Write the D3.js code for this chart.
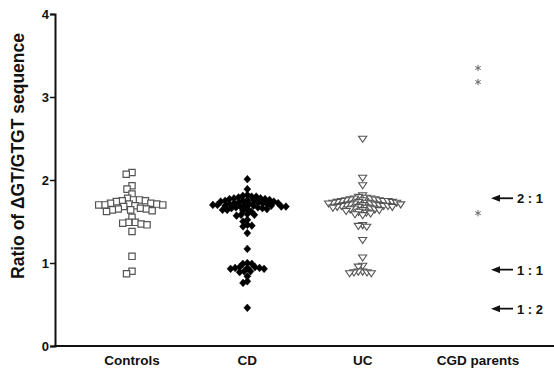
<!DOCTYPE html>
<html><head><meta charset="utf-8">
<script src="https://cdn.jsdelivr.net/npm/d3@7"></script>
<style>body{margin:0;background:#fff}svg{display:block}text{font-family:"Liberation Sans",Arial,sans-serif}</style>
</head><body><svg id="c" width="554" height="371"></svg>
<script>
const categories = ["Controls", "CD", "UC", "CGD parents"];
const controls = [2.09, 2.07, 1.93, 1.89, 1.83, 1.78, 1.76, 1.76, 1.75, 1.75, 1.74, 1.72, 1.72, 1.71, 1.71, 1.70, 1.70, 1.70, 1.69, 1.68, 1.66, 1.65, 1.65, 1.64, 1.64, 1.63, 1.62, 1.55, 1.49, 1.49, 1.48, 1.47, 1.46, 1.38, 1.08, 0.90, 0.87];
const cd = [2.01, 1.89, 1.82, 1.81, 1.80, 1.80, 1.79, 1.78, 1.78, 1.77, 1.77, 1.76, 1.76, 1.75, 1.75, 1.75, 1.74, 1.74, 1.73, 1.73, 1.72, 1.72, 1.72, 1.71, 1.71, 1.71, 1.70, 1.70, 1.70, 1.69, 1.69, 1.69, 1.68, 1.68, 1.68, 1.67, 1.67, 1.66, 1.66, 1.65, 1.65, 1.64, 1.64, 1.63, 1.62, 1.59, 1.58, 1.58, 1.57, 1.52, 1.50, 1.46, 1.45, 1.44, 1.36, 1.17, 1.00, 0.99, 0.99, 0.95, 0.95, 0.94, 0.94, 0.94, 0.93, 0.93, 0.90, 0.90, 0.89, 0.84, 0.78, 0.76, 0.46];
const uc = [2.50, 2.03, 1.94, 1.82, 1.80, 1.79, 1.78, 1.78, 1.77, 1.77, 1.76, 1.76, 1.76, 1.75, 1.75, 1.75, 1.74, 1.74, 1.74, 1.73, 1.73, 1.73, 1.72, 1.72, 1.72, 1.71, 1.71, 1.71, 1.70, 1.70, 1.70, 1.69, 1.69, 1.69, 1.68, 1.68, 1.68, 1.67, 1.67, 1.66, 1.66, 1.65, 1.65, 1.64, 1.64, 1.63, 1.62, 1.61, 1.60, 1.59, 1.58, 1.46, 1.45, 1.44, 1.28, 1.07, 0.97, 0.96, 0.90, 0.90, 0.89, 0.89, 0.88, 0.88];
const cgdParents = [3.35, 3.18, 1.60];
const yTicks = [0, 1, 2, 3, 4];
const ratioLabels = ["2 : 1", "1 : 1", "1 : 2"];
const ratioValues = [1.78, 0.92, 0.45];

const svg = d3.select("#c");
const y = d3.scaleLinear().domain([0, 4]).range([346, 14]);
const x = d3.scalePoint().domain(categories).range([132, 478]);

const ya = svg.append("g").attr("transform", "translate(55,0)")
  .call(d3.axisLeft(y).tickValues(yTicks).tickSize(5).tickFormat(d3.format("d")));
ya.select(".domain").attr("stroke", "#111").attr("stroke-width", 2);
ya.selectAll(".tick line").attr("stroke", "#111").attr("stroke-width", 1.5);
ya.selectAll(".tick text").attr("font-size", 13).attr("font-weight", "bold").attr("fill", "#111").attr("x", -6);

svg.append("line").attr("x1", 54).attr("x2", 554).attr("y1", y(0)).attr("y2", y(0))
  .attr("stroke", "#111").attr("stroke-width", 2);
svg.append("g").selectAll("text").data(categories).join("text")
  .attr("x", d => x(d)).attr("y", 365).attr("text-anchor", "middle")
  .attr("font-size", 13.5).attr("font-weight", "bold").attr("fill", "#111").text(d => d);

svg.append("text").attr("transform", "translate(24,156) rotate(-90)")
  .attr("text-anchor", "middle").attr("font-size", 17.5).attr("font-weight", "bold").attr("fill", "#111")
  .text("Ratio of \u0394GT/GTGT sequence");

function swarm(values, diam) {
  const pts = values.map(v => ({ v, py: y(v) })).sort((a, b) => a.py - b.py);
  const placed = [];
  for (const p of pts) {
    let cands = [0];
    for (const q of placed) {
      const dy = p.py - q.py;
      if (Math.abs(dy) < diam) {
        const dx = Math.sqrt(diam * diam - dy * dy);
        cands.push(q.dx + dx, q.dx - dx);
      }
    }
    cands.sort((a, b) => Math.abs(a) - Math.abs(b) || a - b);
    for (const c of cands) {
      const ok = placed.every(q => (q.dx - c) ** 2 + (q.py - p.py) ** 2 >= diam * diam - 0.01);
      if (ok) { p.dx = c; break; }
    }
    placed.push(p);
  }
  return placed;
}

function drawGroup(vals, cat, symType, size, fill, stroke, sw, diam) {
  const pts = swarm(vals, diam);
  svg.append("g").selectAll("path").data(pts).join("path")
    .attr("transform", d => `translate(${x(cat) + d.dx},${d.py})`)
    .attr("d", d3.symbol().type(symType).size(size))
    .attr("fill", fill).attr("stroke", stroke).attr("stroke-width", sw);
}

const invTri = { draw(ctx, s) { const r = Math.sqrt(s) / 1.6; ctx.moveTo(-r, -r * 0.55); ctx.lineTo(r, -r * 0.55); ctx.lineTo(0, r * 0.95); ctx.closePath(); } };
const diamond = { draw(ctx, s) { const r = Math.sqrt(s) / 2; ctx.moveTo(0, -r); ctx.lineTo(r * 0.9, 0); ctx.lineTo(0, r); ctx.lineTo(-r * 0.9, 0); ctx.closePath(); } };

drawGroup(controls, "Controls", d3.symbolSquare, 40, "#fff", "#555", 1.2, 6);
drawGroup(cd, "CD", diamond, 60, "#000", "#000", 0.5, 4.6);
drawGroup(uc, "UC", invTri, 42, "#fff", "#555", 1.1, 4.4);
svg.append("g").selectAll("path").data(cgdParents).join("path")
  .attr("transform", d => `translate(${x("CGD parents")},${y(d)})`)
  .attr("d", d3.symbol().type(d3.symbolAsterisk).size(28))
  .attr("fill", "none").attr("stroke", "#666").attr("stroke-width", 1);

const ann = svg.append("g").selectAll("g").data(ratioValues).join("g")
  .attr("transform", d => `translate(0,${y(d)})`);
ann.append("line").attr("x1", 497).attr("x2", 513).attr("y1", 0).attr("y2", 0).attr("stroke", "#111").attr("stroke-width", 1.8);
ann.append("path").attr("d", "M491,0 L500,-3.5 L500,3.5 Z").attr("fill", "#111");
ann.append("text").attr("x", 517).attr("y", 5).attr("font-size", 13).attr("font-weight", "bold").attr("fill", "#111")
  .text((d, i) => ratioLabels[i]);
</script></body></html>
